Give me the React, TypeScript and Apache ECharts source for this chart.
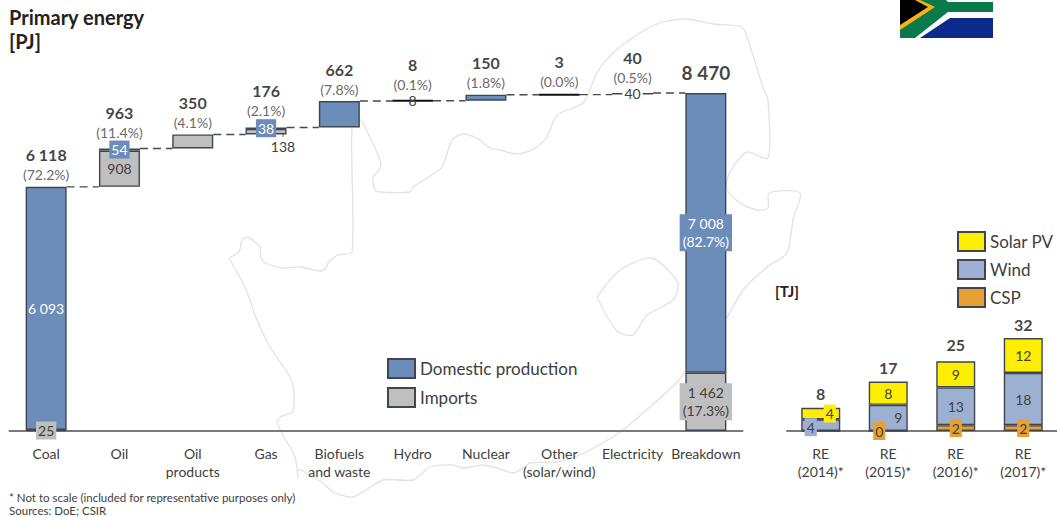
import React, { useEffect, useRef } from "react";
import * as echarts from "echarts";

const WIDTH = 1057;
const HEIGHT = 517;
const FONT = "Lato, 'Open Sans', sans-serif";
const INK = "#404040";
const STRONG = "#111111";
const BORDER = "#3f4650";
const BLUE = "#6c8cba";
const GREY = "#bfbfbf";
const WIND = "#9db0d2";
const SOLAR = "#ffee00";
const CSP = "#e9a032";

// Primary energy, PJ
const energyCategories = ["Coal", "Oil", "Oil\nproducts", "Gas", "Biofuels\nand waste", "Hydro", "Nuclear", "Other\n(solar/wind)", "Electricity", "Breakdown"];
const basePJ = [null, 6118, 7081, 7431, 7607, 8269, 8277, 8427, 8430, null];
const importsPJ = [25, 908, 350, 138, null, null, null, null, 40, 1462];
const domesticPJ = [6093, 54, null, 38, 662, 8, 150, 3, null, 7008];
const totalPJ = [6118, 7081, 7431, 7607, 8269, 8277, 8427, 8430, 8470, 8470];
const headValues = ["6 118", "963", "350", "176", "662", "8", "150", "3", "40", "8 470"];
const headShares = ["(72.2%)", "(11.4%)", "(4.1%)", "(2.1%)", "(7.8%)", "(0.1%)", "(1.8%)", "(0.0%)", "(0.5%)", ""];
const importLabels = ["25", "908", null, "138", null, null, null, null, "40", "1 462\n(17.3%)"];
const domesticLabels = ["6 093", "54", null, "38", null, "8", null, null, null, "7 008\n(82.7%)"];

// Renewable electricity, TJ
const reCategories = ["RE\n(2014)*", "RE\n(2015)*", "RE\n(2016)*", "RE\n(2017)*"];
const cspTJ = [0, 0, 2, 2];
const windTJ = [4, 9, 13, 18];
const solarTJ = [4, 8, 9, 12];
const totalTJ = [8, 17, 25, 32];

// Lift of each heading above its bar, in pixels
const headLift = [3, 6, 2, 7, 2, 7, 3, 4, 6, 6];

// Country outline drawn faintly behind the bars
const countryOutline = [
  [229, 258], [239, 252], [242, 240], [248, 237], [255, 242], [260, 247], [261, 258], [265, 263], [283, 268],
  [300, 267], [320, 271], [326, 268], [328, 263], [338, 255], [352, 252], [352, 127], [360, 120], [363, 123],
  [380, 160], [380, 168], [373, 178], [375, 190], [380, 192], [410, 192], [413, 187], [427, 178], [442, 167],
  [452, 140], [463, 134], [477, 138], [490, 148], [500, 150], [510, 153], [523, 153], [537, 147], [547, 137],
  [557, 115], [583, 103], [597, 73], [613, 53], [640, 33], [663, 22], [687, 19], [713, 24], [742, 27], [748, 40],
  [763, 87], [768, 100], [768, 158], [747, 152], [733, 167], [727, 180], [727, 190], [740, 203], [757, 210],
  [768, 208], [769, 193], [800, 193], [793, 220], [787, 253], [767, 267], [743, 290], [727, 317], [685, 372],
  [677, 382], [650, 407], [620, 432], [580, 455], [557, 462], [530, 463], [523, 468], [513, 473], [497, 468],
  [483, 465], [463, 468], [453, 465], [430, 467], [413, 480], [383, 480], [353, 497], [333, 492], [323, 483],
  [307, 473], [298, 470], [298, 478], [295, 457], [283, 435], [277, 422], [280, 417], [292, 412], [294, 393],
  [290, 377], [270, 347], [257, 320], [250, 300], [243, 283], [229, 258],
];
const enclaveOutline = [
  [597, 297], [620, 270], [652, 258], [678, 283], [673, 300], [647, 315], [633, 335], [618, 332], [608, 318], [597, 297],
];

const outlineStyle = { fill: "none", stroke: "#e2e2e2", lineWidth: 1.3 };

const flag = [
  { type: "rect", shape: { x: 900, y: 0, width: 93, height: 38 }, style: { fill: "#ffffff" } },
  { type: "polygon", shape: { points: [[900, 0], [946, 0], [948, 2], [993, 2], [993, 12], [948, 12], [915, 38], [900, 38]] }, style: { fill: "#0b7a4b" } },
  { type: "polygon", shape: { points: [[900, 0], [920, 0], [935, 7], [900, 30]] }, style: { fill: "#f5b21a" } },
  { type: "polygon", shape: { points: [[900, 0], [915, 0], [928, 7], [900, 25]] }, style: { fill: "#000000" } },
  { type: "polygon", shape: { points: [[950, 18], [993, 18], [993, 38], [920, 38]] }, style: { fill: "#0a2a8c" } },
];

const plainText = (text: string, x: number, y: number, font: string, lineHeight?: number, fill = "#222222") => ({
  type: "text",
  x,
  y,
  style: { text, font, fill, lineHeight },
});

function innerLabel(text: string | null, color: string, background: string, offset?: number[]) {
  if (text === null) return { show: false };
  return {
    show: true,
    position: "inside",
    formatter: text,
    color,
    backgroundColor: background,
    padding: text.includes("\n") ? [1, 3, 0, 3] : [0, 2, 0, 2],
    offset,
    fontFamily: FONT,
    fontSize: 14,
    lineHeight: 18,
    align: "center",
  };
}

function energyImportLabel(text: string | null) {
  if (text === "138") return innerLabel(text, INK, "transparent", [17, 15]);
  if (text === "40") return innerLabel(text, INK, "#ffffff");
  if (text === "908") return innerLabel(text, INK, "transparent");
  return innerLabel(text, INK, GREY);
}

function energyDomesticLabel(text: string | null) {
  if (text === "8") return innerLabel(text, INK, "transparent");
  if (text === "6 093") return innerLabel(text, "#ffffff", "transparent");
  return innerLabel(text, "#ffffff", BLUE);
}

// Bars far too thin to show a fill read as a solid dark rule
function thinBarStyle(value: number | null) {
  return value !== null && value < 10 ? { borderColor: "#111111", borderWidth: 2 } : undefined;
}

function makeOption() {
  const barBorder = { borderColor: BORDER, borderWidth: 1.4 };
  const barWidth = 41;
  const reWidth = 39;

  const reSeries = (
    name: string,
    values: number[],
    color: string,
    labelFor: (v: number, i: number) => any,
  ) => ({
    name,
    type: "bar",
    stack: "re",
    xAxisIndex: 1,
    yAxisIndex: 1,
    barWidth: reWidth,
    itemStyle: { color, ...barBorder },
    data: values.map((value, i) => ({ value, label: labelFor(value, i) })),
  });

  const legendText = { color: INK, fontFamily: FONT, fontSize: 17, lineHeight: 19 };

  return {
    animation: false,
    backgroundColor: "#ffffff",
    textStyle: { fontFamily: FONT },
    grid: [
      { left: 9.5, width: 733, top: 93, height: 338 },
      { left: 787, width: 270, top: 338, height: 93 },
    ],
    xAxis: [0, 1].map((gridIndex) => ({
      type: "category",
      gridIndex,
      data: gridIndex === 0 ? energyCategories : reCategories,
      axisTick: { show: false },
      axisLine: { lineStyle: { color: "#7a7a7a", width: 2 } },
      axisLabel: { interval: 0, color: INK, fontFamily: FONT, fontSize: 14, lineHeight: 18, margin: 13 },
    })),
    yAxis: [
      { type: "value", gridIndex: 0, min: 0, max: 8470, show: false },
      { type: "value", gridIndex: 1, min: 0, max: 32, show: false },
    ],
    legend: [
      {
        left: 387,
        top: 358,
        padding: 0,
        orient: "vertical",
        icon: "rect",
        itemWidth: 27,
        itemHeight: 19,
        itemGap: 8,
        selectedMode: false,
        data: ["Domestic production", "Imports"],
        textStyle: legendText,
      },
      {
        left: 957,
        top: 231,
        padding: 0,
        orient: "vertical",
        icon: "rect",
        itemWidth: 27,
        itemHeight: 19,
        itemGap: 7,
        selectedMode: false,
        data: ["Solar PV", "Wind", "CSP"],
        textStyle: legendText,
      },
    ],
    graphic: {
      elements: [
        { type: "polyline", shape: { points: countryOutline, smooth: 0.25 }, style: outlineStyle, silent: true },
        { type: "polyline", shape: { points: enclaveOutline, smooth: 0.25 }, style: outlineStyle, silent: true },
        ...flag,
        plainText("Primary energy\n[PJ]", 9, 5, `bold 20px ${FONT}`, 24),
        plainText("[TJ]", 775, 283, `bold 15px ${FONT}`),
        plainText("* Not to scale (included for representative purposes only)", 9, 491, `11.5px ${FONT}`, undefined, "#404040"),
        plainText("Sources: DoE; CSIR", 9, 504, `11.5px ${FONT}`, undefined, "#404040"),
        { type: "line", shape: { x1: 283, y1: 130, x2: 283, y2: 137 }, style: { stroke: "#666666", lineWidth: 1 } },
      ],
    },
    series: [
      {
        // Running-total steps between neighbouring bars
        type: "custom",
        xAxisIndex: 0,
        yAxisIndex: 0,
        z: 1,
        silent: true,
        encode: { x: 0, y: 1 },
        data: totalPJ.slice(0, -1).map((level, i) => [i, level]),
        renderItem: (_params: any, api: any) => {
          const start = api.coord([api.value(0), api.value(1)]);
          const end = api.coord([api.value(0) + 1, api.value(1)]);
          return {
            type: "line",
            shape: { x1: start[0] + barWidth / 2, y1: start[1], x2: end[0] - barWidth / 2, y2: end[1] },
            style: { stroke: "#4a4a4a", lineWidth: 1.4, lineDash: [8, 5], fill: "none" },
          };
        },
      },
      {
        name: "base",
        type: "bar",
        stack: "pj",
        barWidth,
        silent: true,
        itemStyle: { color: "transparent", borderWidth: 0 },
        data: basePJ,
      },
      {
        name: "Imports",
        type: "bar",
        stack: "pj",
        barWidth,
        itemStyle: { color: GREY, ...barBorder },
        data: importsPJ.map((value, i) => ({ value, label: energyImportLabel(importLabels[i]) })),
      },
      {
        name: "Domestic production",
        type: "bar",
        stack: "pj",
        barWidth,
        itemStyle: { color: BLUE, ...barBorder },
        data: domesticPJ.map((value, i) => ({
          value,
          itemStyle: thinBarStyle(value),
          label: energyDomesticLabel(domesticLabels[i]),
        })),
      },
      {
        type: "scatter",
        symbolSize: 0,
        silent: true,
        data: totalPJ.map((value, i) => ({
          value: [i, value],
          label: {
            show: true,
            position: "top",
            distance: 0,
            offset: [0, -headLift[i]],
            align: "center",
            formatter: headShares[i]
              ? `{v|${headValues[i]}}\n{p|${headShares[i]}}`
              : `{t|${headValues[i]}}`,
            rich: {
              v: { fontFamily: FONT, fontWeight: "bold", fontSize: 16, color: STRONG, lineHeight: 21, align: "center" },
              p: { fontFamily: FONT, fontSize: 14, color: INK, lineHeight: 19, align: "center" },
              t: { fontFamily: FONT, fontWeight: "bold", fontSize: 19, color: STRONG, lineHeight: 30, align: "center" },
            },
          },
        })),
      },
      reSeries("CSP", cspTJ, CSP, (value, i) =>
        i === 0 ? { show: false } : innerLabel(String(value), INK, CSP, i === 1 ? [-9, 0] : [0, 0])),
      reSeries("Wind", windTJ, WIND, (value, i) =>
        i === 0
          ? innerLabel(String(value), INK, WIND, [-10, 2])
          : innerLabel(String(value), INK, "transparent", i === 1 ? [10, 0] : [0, 0])),
      reSeries("Solar PV", solarTJ, SOLAR, (value, i) =>
        i === 0
          ? innerLabel(String(value), INK, SOLAR, [9, 0])
          : innerLabel(String(value), INK, "transparent")),
      {
        type: "scatter",
        xAxisIndex: 1,
        yAxisIndex: 1,
        symbolSize: 0,
        silent: true,
        data: totalTJ.map((value, i) => ({
          value: [i, value],
          label: {
            show: true,
            position: "top",
            distance: 6,
            formatter: String(value),
            fontFamily: FONT,
            fontWeight: "bold",
            fontSize: 16,
            color: STRONG,
          },
        })),
      },
    ],
  };
}

export default function App() {
  const chartRef = useRef<HTMLDivElement | null>(null);

  useEffect(() => {
    const chart = echarts.init(chartRef.current, null, { renderer: "svg" });
    chart.setOption(makeOption() as any);
    return () => chart.dispose();
  }, []);

  return <div ref={chartRef} style={{ position: "absolute", left: 0, top: 0, width: WIDTH, height: HEIGHT }} />;
}
